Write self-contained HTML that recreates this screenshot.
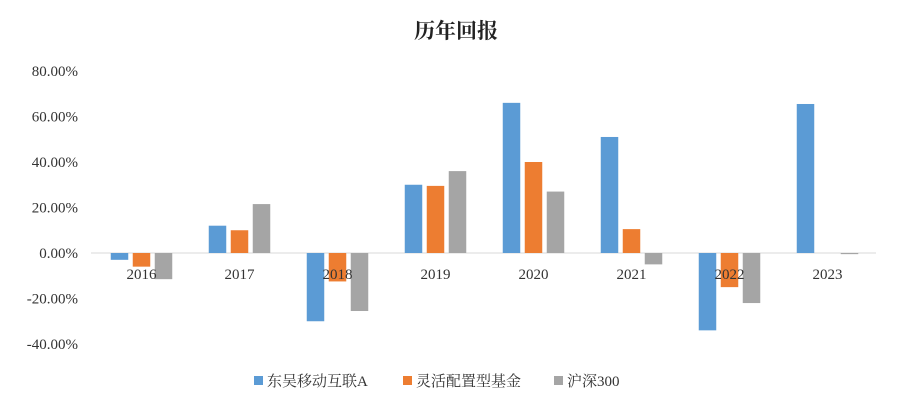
<!DOCTYPE html>
<html><head><meta charset="utf-8"><style>
body{margin:0;background:#fff;}
svg text{font-family:"Liberation Serif","Noto Serif CJK SC",serif;}
</style></head><body>
<svg id="chart" width="912" height="400" xmlns="http://www.w3.org/2000/svg">
<rect width="912" height="400" fill="#fff"/>
<text x="456" y="38" text-anchor="middle" font-size="21" font-weight="bold" fill="#222">历年回报</text>
<g id="grid"></g><g id="bars"></g><g id="labels"></g><g id="legend"></g>
</svg>
<script>
const categories=["2016","2017","2018","2019","2020","2021","2022","2023"];
const seriesNames=["东吴移动互联A","灵活配置型基金","沪深300"];
const seriesColors=["#5b9bd5","#ed7d31","#a5a5a5"];
const blueVals=[-3,12,-30,30,66,51,-34,65.5];
const orangeVals=[-6,10,-12.5,29.5,40,10.5,-15,null];
const grayVals=[-11.5,21.5,-25.5,36,27,-5,-22,-0.5];
const yTicks=[80,60,40,20,0,-20,-40];
const series=[blueVals,orangeVals,grayVals];
const NS="http://www.w3.org/2000/svg";
const x0=92.5,x1=876.5,yZero=253,pxPer=2.275;
const y=v=>yZero-v*pxPer;
const band=(x1-x0)/categories.length;
const bx=i=>x0+band*(i+0.5);
function mk(t,a,p){const e=document.createElementNS(NS,t);for(const k in a)e.setAttribute(k,a[k]);p.appendChild(e);return e;}
const G=document.getElementById('grid'),B=document.getElementById('bars'),L=document.getElementById('labels'),Lg=document.getElementById('legend');
yTicks.forEach(t=>{
 const tx=mk('text',{x:78,y:y(t)+5,'text-anchor':'end','font-size':15,fill:'#333'},L);
 tx.textContent=t.toFixed(2)+'%';
 
 
});
const zl=mk('line',{x1:91,x2:876,y1:yZero,y2:yZero,stroke:'#d9d9d9','stroke-width':1},G);


const bw=17.5,gap=4.5;
series.forEach((vals,s)=>{
 vals.forEach((v,i)=>{
  if(v===null)return;
  const cx=bx(i)+(s-1)*(bw+gap);
  const top=Math.min(y(v),yZero),h=Math.abs(y(v)-yZero);
  const r=mk('rect',{x:cx-bw/2,y:top,width:bw,height:Math.max(h,1),fill:seriesColors[s]},B);
  
  
 });
});
categories.forEach((c,i)=>{
 const t=mk('text',{x:bx(i),y:279,'text-anchor':'middle','font-size':15,fill:'#333'},L);
 t.textContent=c;
 
 
});
const lx=[254,403,554];
seriesNames.forEach((n,s)=>{
 const g=mk('g',{},Lg);
 
 
 mk('rect',{x:lx[s],y:376,width:9,height:9,fill:seriesColors[s]},g);
 const t=mk('text',{x:lx[s]+13,y:386,'font-size':15,fill:'#333'},g);
 t.textContent=n;
});
</script>
</body></html>
